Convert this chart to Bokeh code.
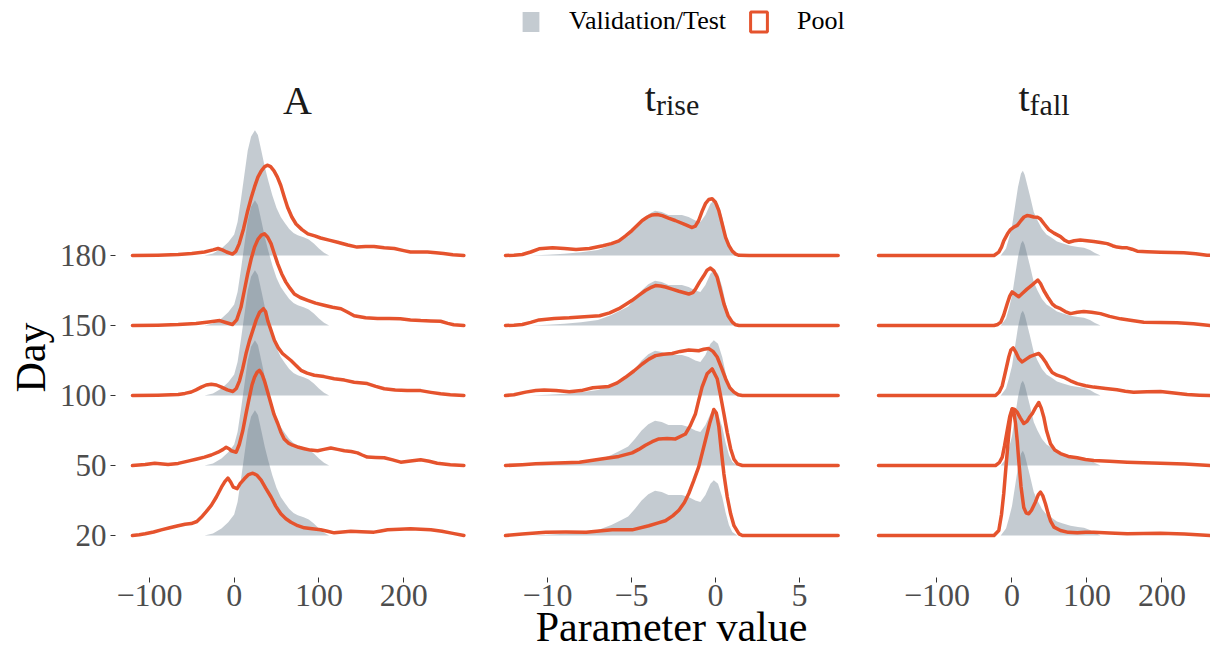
import math
from bokeh.plotting import figure
from bokeh.layouts import row
from bokeh.models import Range1d, FixedTicker, Label, Legend, LegendItem, ColumnDataSource
from bokeh.embed import file_html
from bokeh.resources import INLINE

DAYS = ["20", "50", "100", "150", "180"]

# ---------------- Panel A ----------------
A_GRAY_X = [-35, -25, -15, -7, 0, 4, 8, 12, 16, 20, 24.5, 28, 32, 36, 40, 45, 50, 55, 60, 65, 70, 75, 82, 88, 94, 100, 106, 112]
A_GRAY_H = [0, 0.03, 0.1, 0.19, 0.3, 0.48, 0.8, 1.15, 1.5, 1.7, 1.79, 1.72, 1.5, 1.27, 1.08, 0.86, 0.68, 0.55, 0.46, 0.38, 0.32, 0.29, 0.26, 0.23, 0.17, 0.1, 0.04, 0]

A_POOL_180_X = [-120, -90, -66, -50, -35, -25, -19, -14, -9, -2, 2, 6, 11, 16, 20, 24, 28, 32, 36, 39.6, 43, 47, 51, 55, 59, 63, 68, 73, 80, 87, 95, 102, 112, 122, 134, 145, 155, 165, 177, 189, 200, 208, 218, 228, 238, 247, 258, 271]
A_POOL_180_H = [0, 0.005, 0.014, 0.03, 0.05, 0.08, 0.10, 0.08, 0.05, 0.02, 0.06, 0.17, 0.38, 0.64, 0.82, 0.98, 1.12, 1.21, 1.27, 1.29, 1.27, 1.21, 1.12, 1.0, 0.84, 0.69, 0.55, 0.45, 0.37, 0.31, 0.28, 0.25, 0.22, 0.19, 0.15, 0.12, 0.13, 0.13, 0.11, 0.10, 0.07, 0.05, 0.05, 0.05, 0.04, 0.03, 0.01, 0]

A_POOL_150_X = [-120, -90, -66, -45, -30, -17, -9, -2, 3, 8, 12, 16, 20, 24, 28, 32, 35.7, 39.6, 43.5, 47, 51.4, 56, 61, 66, 71, 78, 86.7, 96, 106, 116, 126, 134, 141.5, 155, 169, 183, 196, 208, 220, 232, 243.5, 252, 259, 271]
A_POOL_150_H = [0, 0.005, 0.014, 0.03, 0.05, 0.07, 0.04, 0.014, 0.08, 0.26, 0.5, 0.74, 0.95, 1.12, 1.23, 1.29, 1.31, 1.26, 1.17, 1.04, 0.88, 0.74, 0.62, 0.53, 0.45, 0.4, 0.36, 0.32, 0.29, 0.26, 0.24, 0.19, 0.14, 0.11, 0.10, 0.1, 0.095, 0.08, 0.07, 0.065, 0.06, 0.03, 0.01, 0]

A_POOL_100_X = [-120, -90, -66, -58, -50.6, -45, -38.8, -33, -27, -21, -15, -8, -1.5, 2.5, 6.3, 10, 14, 18, 22, 26, 30, 34.5, 37, 39.6, 43.5, 47.4, 52, 57, 62, 67, 73, 78.8, 86, 94.5, 106, 118, 130, 141.5, 157, 167, 177, 190, 204, 220, 232, 243.5, 255, 271]
A_POOL_100_H = [0, 0.005, 0.014, 0.03, 0.05, 0.08, 0.12, 0.15, 0.16, 0.15, 0.12, 0.08, 0.057, 0.1, 0.21, 0.38, 0.6, 0.78, 0.93, 1.08, 1.19, 1.24, 1.2, 1.07, 0.93, 0.79, 0.68, 0.6, 0.55, 0.5, 0.43, 0.36, 0.32, 0.29, 0.27, 0.24, 0.22, 0.19, 0.17, 0.13, 0.096, 0.08, 0.07, 0.07, 0.045, 0.024, 0.01, 0]

A_POOL_50_X = [-120, -105, -93.7, -78, -66, -54.5, -45, -35, -27, -19, -13, -9.4, -6, -3.5, 2.4, 6, 10.2, 14, 18, 21, 24, 27, 29.8, 33, 35.7, 40, 43.5, 47, 51.4, 55, 59, 64, 69, 76, 82.7, 90, 98.5, 106, 114, 122, 130, 138, 145.5, 151, 157, 167, 177, 187, 196.5, 208, 220, 230, 239.6, 255, 271]
A_POOL_50_H = [0, 0.014, 0.033, 0.014, 0.03, 0.062, 0.09, 0.12, 0.15, 0.19, 0.23, 0.26, 0.24, 0.21, 0.19, 0.3, 0.5, 0.74, 0.98, 1.15, 1.26, 1.33, 1.36, 1.3, 1.21, 1.03, 0.88, 0.73, 0.6, 0.48, 0.38, 0.32, 0.29, 0.26, 0.24, 0.22, 0.21, 0.23, 0.25, 0.23, 0.21, 0.2, 0.18, 0.15, 0.12, 0.115, 0.11, 0.08, 0.048, 0.065, 0.081, 0.06, 0.033, 0.01, 0]

A_POOL_20_X = [-120, -112, -105, -95, -86, -76, -66, -58, -50.6, -44, -38.8, -33, -27, -21, -15, -11, -7.4, -4, -1, 3.5, 7, 12, 17, 22, 27, 31.8, 37, 43.5, 49, 55, 61, 67, 75, 82.7, 92, 102, 110, 118, 128, 137.6, 150, 165, 173, 181, 195, 208, 220, 232, 245, 258, 271]
A_POOL_20_H = [0, 0.01, 0.024, 0.05, 0.081, 0.11, 0.14, 0.16, 0.17, 0.2, 0.26, 0.34, 0.43, 0.55, 0.69, 0.77, 0.82, 0.76, 0.69, 0.67, 0.74, 0.81, 0.87, 0.89, 0.86, 0.79, 0.68, 0.55, 0.42, 0.31, 0.24, 0.19, 0.14, 0.11, 0.095, 0.081, 0.06, 0.038, 0.05, 0.062, 0.055, 0.048, 0.065, 0.081, 0.088, 0.095, 0.088, 0.081, 0.06, 0.03, 0]

# ---------------- Panel t_rise ----------------
R_GRAY_X = [-11, -10, -9, -8, -7, -6.2, -5.6, -5.2, -4.8, -4.4, -4.0, -3.6, -3.2, -2.8, -2.4, -2.0, -1.6, -1.2, -0.9, -0.6, -0.3, -0.1, 0.15, 0.4, 0.6, 0.8, 1.0, 1.3]
R_GRAY_H = [0, 0.01, 0.025, 0.045, 0.08, 0.15, 0.22, 0.27, 0.38, 0.5, 0.59, 0.64, 0.62, 0.58, 0.58, 0.58, 0.55, 0.5, 0.48, 0.58, 0.74, 0.79, 0.74, 0.55, 0.33, 0.15, 0.05, 0]

R_POOL_180_X = [-12.5, -12, -11.5, -11, -10.5, -9.7, -9, -8.3, -7.5, -6.7, -6.2, -5.75, -5.35, -4.96, -4.36, -4.05, -3.77, -3.47, -3.17, -2.8, -2.4, -1.8, -1.39, -1.2, -1.0, -0.8, -0.6, -0.4, -0.2, 0.0, 0.2, 0.4, 0.6, 0.8, 1.0, 1.2, 1.4, 2.0, 7.3]
R_POOL_180_H = [0, 0.004, 0.014, 0.05, 0.095, 0.11, 0.1, 0.086, 0.1, 0.14, 0.17, 0.21, 0.28, 0.36, 0.5, 0.55, 0.58, 0.585, 0.57, 0.535, 0.5, 0.44, 0.4, 0.42, 0.5, 0.63, 0.74, 0.8, 0.81, 0.76, 0.64, 0.45, 0.26, 0.14, 0.062, 0.02, 0.003, 0, 0]

R_POOL_150_X = [-12.5, -12, -11.5, -11, -10.5, -9.6, -8.7, -6.9, -6.3, -5.75, -5.35, -4.96, -4.57, -4.17, -3.87, -3.57, -3.27, -2.98, -2.58, -2.18, -1.59, -1.35, -1.19, -0.95, -0.7, -0.5, -0.3, -0.1, 0.1, 0.3, 0.5, 0.75, 1.0, 1.2, 1.4, 7.3]
R_POOL_150_H = [0, 0.004, 0.014, 0.045, 0.08, 0.1, 0.11, 0.14, 0.18, 0.24, 0.3, 0.36, 0.43, 0.5, 0.54, 0.57, 0.565, 0.55, 0.52, 0.49, 0.45, 0.47, 0.52, 0.62, 0.71, 0.79, 0.82, 0.78, 0.69, 0.5, 0.31, 0.14, 0.048, 0.01, 0, 0]

R_POOL_100_X = [-12.5, -12, -11.3, -10.7, -10.2, -9.5, -8.7, -8, -7.3, -6.35, -5.85, -5.36, -4.86, -4.36, -3.96, -3.57, -3.1, -2.58, -2.1, -1.59, -1.0, -0.7, -0.4, -0.15, 0.1, 0.35, 0.6, 0.85, 1.1, 1.35, 1.6, 7.3]
R_POOL_100_H = [0, 0.01, 0.048, 0.07, 0.08, 0.07, 0.052, 0.07, 0.11, 0.13, 0.18, 0.26, 0.35, 0.45, 0.52, 0.57, 0.59, 0.6, 0.63, 0.65, 0.64, 0.66, 0.67, 0.63, 0.55, 0.4, 0.24, 0.11, 0.048, 0.01, 0, 0]

R_POOL_50_X = [-12.5, -11.5, -10.7, -9.4, -8.1, -7.4, -6.7, -5.75, -4.96, -4.57, -4.17, -3.77, -3.37, -2.88, -2.38, -1.79, -1.5, -1.19, -1.0, -0.8, -0.5, -0.2, 0.1, 0.3, 0.5, 0.7, 0.9, 1.1, 1.3, 1.6, 7.3]
R_POOL_50_H = [0, 0.012, 0.024, 0.035, 0.048, 0.07, 0.095, 0.13, 0.18, 0.23, 0.29, 0.34, 0.38, 0.385, 0.38, 0.45, 0.57, 0.74, 0.93, 1.12, 1.31, 1.38, 1.24, 1.0, 0.74, 0.47, 0.24, 0.09, 0.024, 0, 0]

R_POOL_20_X = [-12.5, -11.5, -10.1, -8.9, -7.7, -6.15, -4.96, -3.97, -3.4, -2.98, -2.55, -2.18, -1.85, -1.59, -1.3, -1.0, -0.8, -0.6, -0.35, -0.1, 0.05, 0.2, 0.35, 0.5, 0.7, 0.9, 1.1, 1.4, 1.6, 7.3]
R_POOL_20_H = [0, 0.02, 0.048, 0.05, 0.048, 0.081, 0.081, 0.14, 0.18, 0.21, 0.28, 0.36, 0.47, 0.6, 0.78, 0.98, 1.17, 1.36, 1.6, 1.8, 1.75, 1.55, 1.2, 0.88, 0.55, 0.31, 0.14, 0.024, 0, 0]

# ---------------- Panel t_fall ----------------
F_GRAY_X = [-15, -8, -4, 0, 4, 8, 12, 14.5, 17, 20, 24, 29, 34, 40, 46, 52, 60, 68, 78, 88, 96, 104, 110, 118]
F_GRAY_H = [0, 0.1, 0.25, 0.42, 0.7, 0.98, 1.17, 1.21, 1.15, 1.02, 0.85, 0.62, 0.5, 0.38, 0.3, 0.26, 0.2, 0.17, 0.14, 0.12, 0.11, 0.08, 0.04, 0]

F_POOL_180_X = [-178, -24, -17.6, -14, -11, -6, -2, 3, 7, 12, 16, 20, 24, 29, 34, 38, 43, 49, 56, 64.7, 70, 75.7, 83, 91, 100, 109, 118, 127, 134, 140, 147, 153.6, 160, 167, 180, 198, 214, 229, 245, 260, 287]
F_POOL_180_H = [0, 0, 0.048, 0.12, 0.21, 0.31, 0.37, 0.41, 0.43, 0.5, 0.55, 0.57, 0.565, 0.55, 0.545, 0.52, 0.45, 0.37, 0.32, 0.27, 0.22, 0.19, 0.21, 0.22, 0.21, 0.2, 0.185, 0.17, 0.14, 0.12, 0.11, 0.11, 0.09, 0.062, 0.055, 0.048, 0.043, 0.038, 0.025, 0.005, 0]

F_POOL_150_X = [-178, -24, -19, -15, -11, -6.4, -3, 0.2, 4, 9, 14, 20, 27, 34.4, 38, 42.4, 48, 53.6, 58, 64.7, 71, 78, 87, 95.7, 106, 118, 130, 144.7, 160, 175.7, 198, 220, 242, 264, 287]
F_POOL_150_H = [0, 0, 0.015, 0.048, 0.15, 0.31, 0.42, 0.48, 0.45, 0.41, 0.46, 0.52, 0.58, 0.65, 0.6, 0.5, 0.4, 0.31, 0.27, 0.24, 0.2, 0.17, 0.19, 0.2, 0.19, 0.17, 0.13, 0.095, 0.07, 0.048, 0.042, 0.038, 0.025, 0, 0]

F_POOL_100_X = [-178, -22, -17, -13, -8.5, -4.3, -1.5, 1.6, 5, 9, 13.6, 19, 24.7, 30, 35.7, 40, 44.7, 49, 53.6, 60, 69, 78, 87, 98, 109, 125, 140, 151, 162, 180, 198, 216, 233.6, 250, 264, 287]
F_POOL_100_H = [0, 0, 0.05, 0.14, 0.35, 0.55, 0.65, 0.68, 0.62, 0.53, 0.48, 0.52, 0.56, 0.58, 0.6, 0.55, 0.48, 0.4, 0.33, 0.29, 0.26, 0.21, 0.17, 0.14, 0.12, 0.1, 0.081, 0.06, 0.048, 0.055, 0.057, 0.035, 0.014, 0.005, 0, 0]

F_POOL_50_X = [-178, -22, -17, -13, -10, -6.4, -3, 0.2, 3.5, 7, 11, 15.7, 20, 24, 27, 31, 35.7, 39, 42.4, 46, 51.3, 57, 64.7, 75, 87, 98, 109, 130, 153.6, 175, 198, 230, 264, 287]
F_POOL_50_H = [0, 0, 0.04, 0.12, 0.28, 0.5, 0.7, 0.81, 0.8, 0.76, 0.68, 0.6, 0.63, 0.7, 0.74, 0.82, 0.9, 0.82, 0.69, 0.5, 0.31, 0.22, 0.17, 0.13, 0.11, 0.085, 0.071, 0.06, 0.048, 0.04, 0.033, 0.02, 0, 0]

F_POOL_20_X = [-178, -24, -17.6, -14, -11, -7.5, -4.3, -2, 0.2, 2.5, 4.7, 7, 9, 12, 15.7, 19, 22.4, 26, 31.3, 35, 38, 41, 44.7, 48, 51.3, 56, 64.7, 75, 87, 98, 109, 130, 153.6, 175, 198, 230, 264, 287]
F_POOL_20_H = [0, 0, 0.071, 0.3, 0.6, 1.05, 1.45, 1.68, 1.8, 1.76, 1.6, 1.35, 1.07, 0.7, 0.4, 0.32, 0.31, 0.36, 0.48, 0.58, 0.62, 0.57, 0.45, 0.32, 0.21, 0.12, 0.071, 0.045, 0.038, 0.045, 0.048, 0.035, 0.024, 0.03, 0.033, 0.02, 0, 0]

# ticks
A_TICKS = [-100, 0, 100, 200]
R_TICKS = [-10, -5, 0, 5]
F_TICKS = [-100, 0, 100, 200]

GRAY = "#5b6f7f"
GRAY_ALPHA = 0.36
ORANGE = "#e5532d"
FONT = "Liberation Serif"
TICK_COLOR = "#4d4d4d"
TITLE_COLOR = "#1a1a1a"

Y_START, Y_END = -0.6, 7.643
NAN = float("nan")


def tick_labels(ticks):
    return {t: (("\u2212" + str(abs(t))) if t < 0 else str(t)) for t in ticks}


def base_fig(width, left, right, xr, with_y):
    p = figure(width=width, height=652, x_range=Range1d(*xr), y_range=Range1d(Y_START, Y_END),
               output_backend="svg", toolbar_location=None,
               min_border_top=0, min_border_bottom=75, min_border_left=left, min_border_right=right,
               y_axis_location=("left" if with_y else None))
    p.outline_line_color = None
    p.background_fill_color = "white"
    p.border_fill_color = "white"
    p.xgrid.visible = False
    p.ygrid.visible = False
    return p


def make_panel(width, left, right, xr, ticks, gray_x, gray_h, pools, with_y):
    p = base_fig(width, left, right, xr, with_y)
    xa = p.xaxis[0]
    xa.ticker = FixedTicker(ticks=ticks)
    xa.major_label_overrides = tick_labels(ticks)
    xa.axis_line_color = None
    xa.major_tick_line_color = "#333333"
    xa.major_tick_out = 5
    xa.major_tick_in = 0
    xa.minor_tick_line_color = None
    xa.major_label_text_font = FONT
    xa.major_label_text_font_size = "32px"
    xa.major_label_text_color = TICK_COLOR
    xa.major_label_standoff = 2

    if with_y:
        ya = p.yaxis[0]
        ya.ticker = FixedTicker(ticks=[0, 1, 2, 3, 4])
        ya.major_label_overrides = {i: d for i, d in enumerate(DAYS)}
        ya.axis_line_color = None
        ya.major_tick_line_color = "#333333"
        ya.major_tick_out = 5
        ya.major_tick_in = 0
        ya.minor_tick_line_color = None
        ya.major_label_text_font = FONT
        ya.major_label_text_font_size = "31px"
        ya.major_label_text_color = TICK_COLOR
        ya.major_label_standoff = 4

    gray_renderers = []
    for i in range(len(DAYS) - 1, -1, -1):
        src = ColumnDataSource(dict(x=gray_x, y1=[i] * len(gray_x), y2=[i + h for h in gray_h]))
        r = p.varea(x="x", y1="y1", y2="y2", source=src, fill_color=GRAY, fill_alpha=GRAY_ALPHA)
        gray_renderers.append(r)
    for i in range(len(DAYS) - 1, -1, -1):
        px, ph = pools[i]
        src = ColumnDataSource(dict(x=px, y=[i + h for h in ph]))
        p.line(x="x", y="y", source=src, line_color=ORANGE, line_width=3.5,
               line_join="round", line_cap="round")
    return p, gray_renderers


def ypx(py):
    return (535 - py) / 70.0


FRAME_BOTTOM = 577

# narrow strip that carries the rotated y-axis title
day_fig = figure(width=56, height=652, x_range=Range1d(0, 1), y_range=Range1d(0, 1),
                 output_backend="svg", toolbar_location=None, min_border=0,
                 x_axis_location=None, y_axis_location=None)
day_fig.outline_line_color = None
day_fig.xgrid.visible = False
day_fig.ygrid.visible = False
day_fig.add_layout(Label(x=30, y=FRAME_BOTTOM - 357, x_units="screen", y_units="screen", text="Day",
                         angle=math.pi / 2, text_align="center", text_baseline="middle",
                         text_font=FONT, text_font_size="42px", text_color="black"))

fig1, g1 = make_panel(424, 58, 0, (-140, 290.6), A_TICKS, A_GRAY_X, A_GRAY_H,
                      [(A_POOL_20_X, A_POOL_20_H), (A_POOL_50_X, A_POOL_50_H), (A_POOL_100_X, A_POOL_100_H),
                       (A_POOL_150_X, A_POOL_150_H), (A_POOL_180_X, A_POOL_180_H)], True)
fig2, g2 = make_panel(377, 7, 2, (-13.571, 8.333), R_TICKS, R_GRAY_X, R_GRAY_H,
                      [(R_POOL_20_X, R_POOL_20_H), (R_POOL_50_X, R_POOL_50_H), (R_POOL_100_X, R_POOL_100_H),
                       (R_POOL_150_X, R_POOL_150_H), (R_POOL_180_X, R_POOL_180_H)], False)
fig3, g3 = make_panel(353, 3, 0, (-202, 264.67), F_TICKS, F_GRAY_X, F_GRAY_H,
                      [(F_POOL_20_X, F_POOL_20_H), (F_POOL_50_X, F_POOL_50_H), (F_POOL_100_X, F_POOL_100_H),
                       (F_POOL_150_X, F_POOL_150_H), (F_POOL_180_X, F_POOL_180_H)], False)

# x-axis title on the middle panel
xa2 = fig2.xaxis[0]
xa2.axis_label = "Parameter value"
xa2.axis_label_text_font = FONT
xa2.axis_label_text_font_size = "42px"
xa2.axis_label_text_font_style = "normal"
xa2.axis_label_text_color = "black"
xa2.axis_label_standoff = -5

# panel titles
fig1.add_layout(Label(x=(296.5 - 233) / 0.85, y=ypx(100), text="A", text_align="center",
                      text_baseline="alphabetic", text_font=FONT, text_font_size="40px", text_color=TITLE_COLOR))


def sub_title(fig, xj, main, sub):
    fig.add_layout(Label(x=xj, y=ypx(97), text=main, text_align="right", text_baseline="alphabetic",
                         text_font=FONT, text_font_size="40px", text_color=TITLE_COLOR))
    fig.add_layout(Label(x=xj, y=ypx(104), text=sub, text_align="left", text_baseline="alphabetic",
                         text_font=FONT, text_font_size="30px", text_color=TITLE_COLOR))


sub_title(fig2, (655.4 - 715) / 16.8, "t", "rise")
sub_title(fig3, (1029.1 - 1011.5) / 0.75, "t", "fall")

# legend
proxy = fig2.quad(left=[NAN], right=[NAN], top=[NAN], bottom=[NAN],
                  fill_color=None, line_color=ORANGE, line_width=3)
legend = Legend(items=[LegendItem(label="Validation/Test", renderers=[g2[0]]),
                       LegendItem(label="Pool", renderers=[proxy])],
                orientation="horizontal", location=(33, 541),
                glyph_width=21, glyph_height=25, label_standoff=28, spacing=22,
                padding=0, margin=0, border_line_color=None, background_fill_alpha=0,
                label_text_font=FONT, label_text_font_size="26px", label_text_color="black")
fig2.add_layout(legend, "center")

layout = row(day_fig, fig1, fig2, fig3)
open("out.html", "w").write(file_html(layout, INLINE))
